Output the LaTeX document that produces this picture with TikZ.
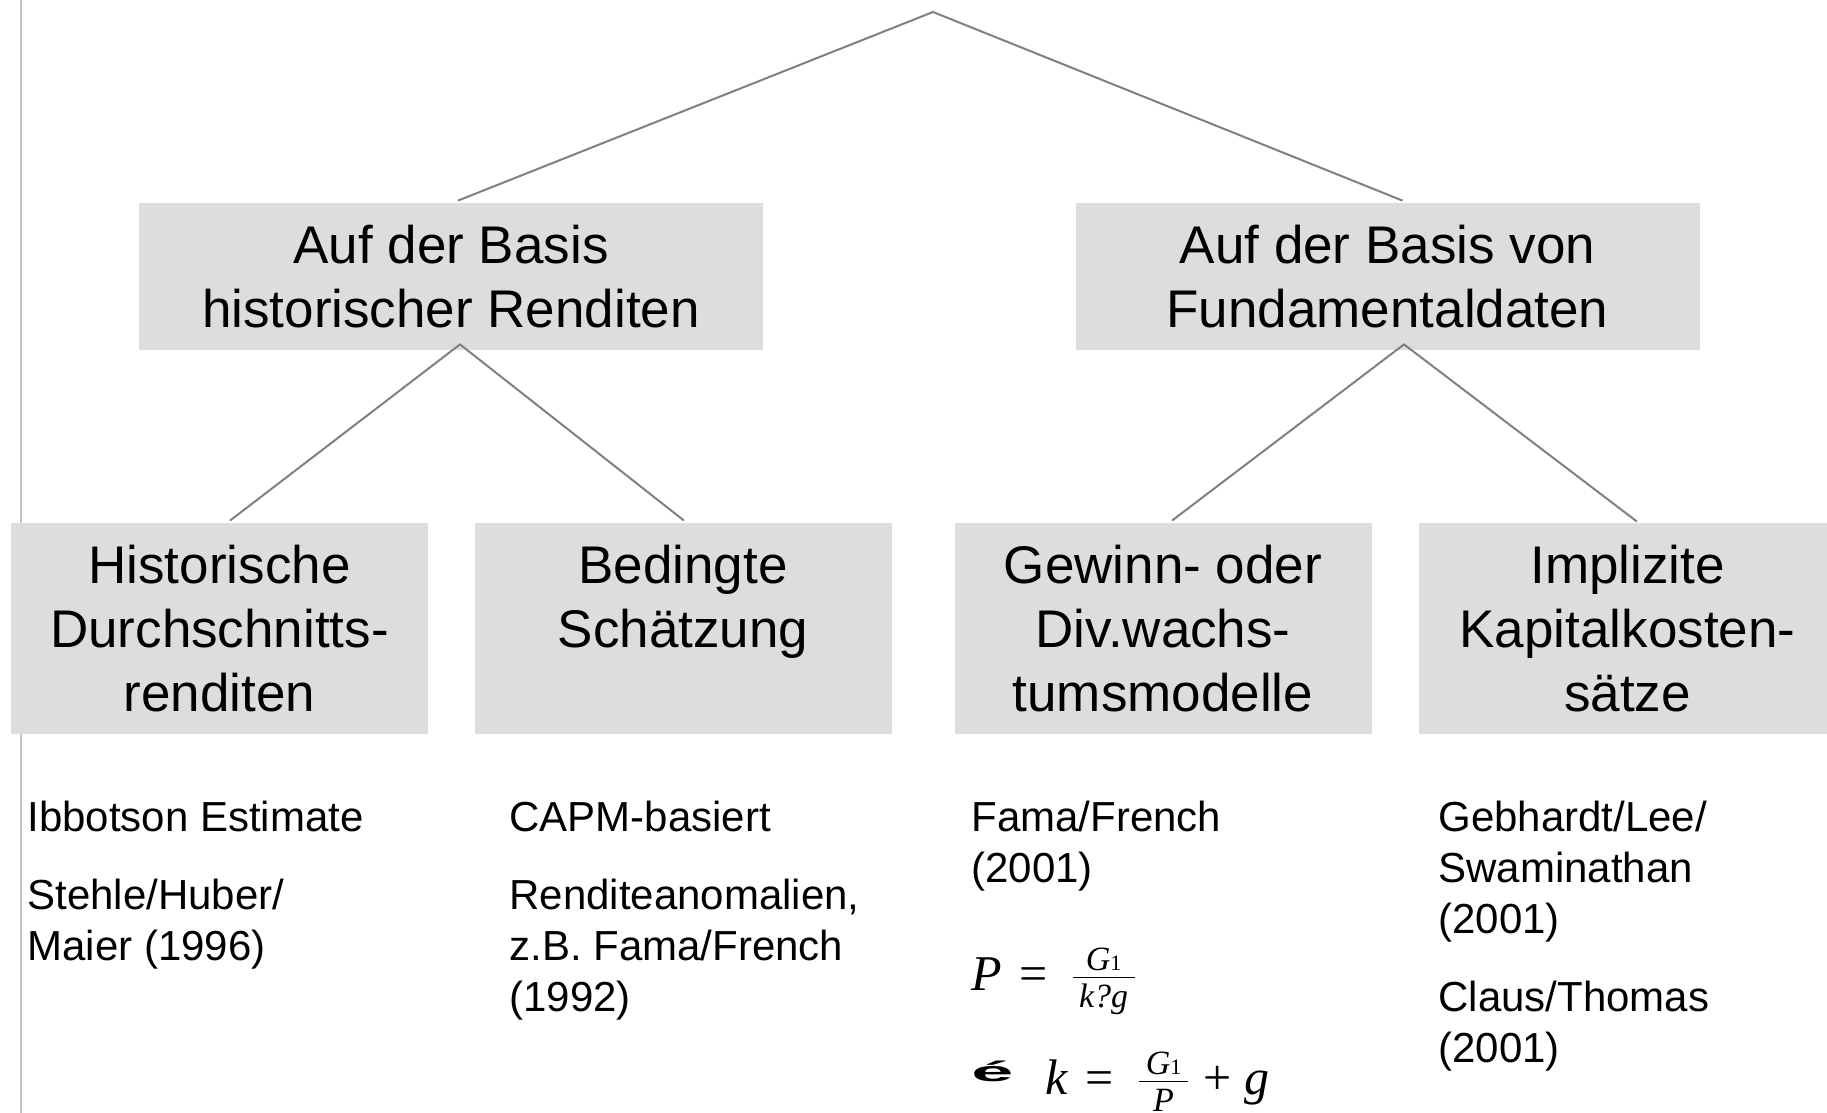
\documentclass[tikz,border=0pt]{standalone}
\usepackage{fontspec}
\setmainfont{Liberation Sans}
\newfontfamily\tnr{Liberation Serif}
\usetikzlibrary{calc}
\definecolor{boxgray}{HTML}{DDDDDD}
\definecolor{linegray}{HTML}{808080}
\definecolor{rulegray}{HTML}{C4C4C4}
\begin{document}
\begin{tikzpicture}[x=0.5pt,y=-0.5pt,
  box/.style={fill=boxgray, inner sep=0pt, align=center, font=\fontsize{26.5}{32}\selectfont},
  lvlone/.style={box, minimum width=312pt, minimum height=73.5pt},
  lvltwo/.style={box, minimum width=208.5pt, minimum height=105.5pt},
  conn/.style={draw=linegray, line width=1pt},
  reftext/.style={anchor=base west, inner sep=0pt, align=left, font=\fontsize{21}{25.5}\selectfont},
  formula/.style={anchor=base west, inner sep=0pt},
]
\useasboundingbox (0,0) rectangle (1827,1113);
\draw[rulegray, line width=0.8pt] (21,0) -- (21,1113);

% boxes
\node[lvlone] (b1) at (451,276.5) {Auf der Basis\\historischer Renditen};
\node[lvlone] (b2) at (1387.5,276.5) {Auf der Basis von\\Fundamentaldaten};
\node[lvltwo] (c1) at (219.5,628.5) {Historische\\Durchschnitts-\\renditen};
\node[lvltwo] (c2) at (683,628.5) {Bedingte\\Schätzung\\\mbox{}};
\node[lvltwo] (c3) at (1163,628.5) {Gewinn- oder\\Div.wachs-\\tumsmodelle};
\node[lvltwo] (c4) at (1627.5,628.5) {Implizite\\Kapitalkosten-\\sätze};

% connectors
\coordinate (apex) at (933,12);
\coordinate (b1t) at ($(b1.north)+(7,-2)$);
\coordinate (b2t) at ($(b2.north)+(15,-2)$);
\coordinate (b1s) at ($(b1.south)+(9,-6)$);
\coordinate (b2s) at ($(b2.south)+(16.5,-6)$);
\coordinate (c1t) at ($(c1.north)+(10.5,-2)$);
\coordinate (c2t) at ($(c2.north)+(1,-2)$);
\coordinate (c3t) at ($(c3.north)+(9,-2)$);
\coordinate (c4t) at ($(c4.north)+(9.5,-1)$);
\draw[conn] (b1t) -- (apex) -- (b2t);
\draw[conn] (c1t) -- (b1s) -- (c2t);
\draw[conn] (c3t) -- (b2s) -- (c4t);

% references (anchor = baseline of the last line)
\node[reftext] (r1a) at (27,831) {Ibbotson Estimate};
\node[reftext] (r1b) at (27,960) {Stehle/Huber/\\Maier (1996)};
\node[reftext] (r2a) at (509,831) {CAPM-basiert};
\node[reftext] (r2b) at (509,1011) {Renditeanomalien,\\z.B. Fama/French\\(1992)};
\node[reftext] (r3a) at (971,882) {Fama/French\\(2001)};
\node[reftext] (r4a) at (1438,933) {Gebhardt/Lee/\\Swaminathan\\(2001)};
\node[reftext] (r4b) at (1438,1062) {Claus/Thomas\\(2001)};

% formulas
\node[formula] (f1) at (971,990) {\tnr\fontsize{25}{25}\selectfont
  $\mbox{\itshape P}\hspace{9pt}\mbox{=}\hspace{11pt}\frac{\makebox[31pt]{\fontsize{17}{17}\selectfont\itshape G{\upshape\fontsize{11}{11}\selectfont 1}}}{\makebox[31pt]{\fontsize{17}{17}\selectfont\itshape k?g}}$};
\node[formula] (f2) at (971,1094) {\tnr\fontsize{25}{25}\selectfont
  $\mbox{\raisebox{6.5pt}{\rmfamily\bfseries\fontsize{14}{14}\selectfont\scalebox{2.7}[1]{é}}}\hspace{16pt}\mbox{\itshape k}\hspace{8.7pt}\mbox{=}\hspace{11.7pt}\frac{\makebox[24.5pt]{\fontsize{17}{17}\selectfont\itshape G{\upshape\fontsize{11}{11}\selectfont 1}}}{\makebox[24.5pt]{\fontsize{17}{17}\selectfont\itshape P}}\hspace{6.5pt}\mbox{+}\hspace{6.5pt}\mbox{\itshape g}$};
\end{tikzpicture}
\end{document}
